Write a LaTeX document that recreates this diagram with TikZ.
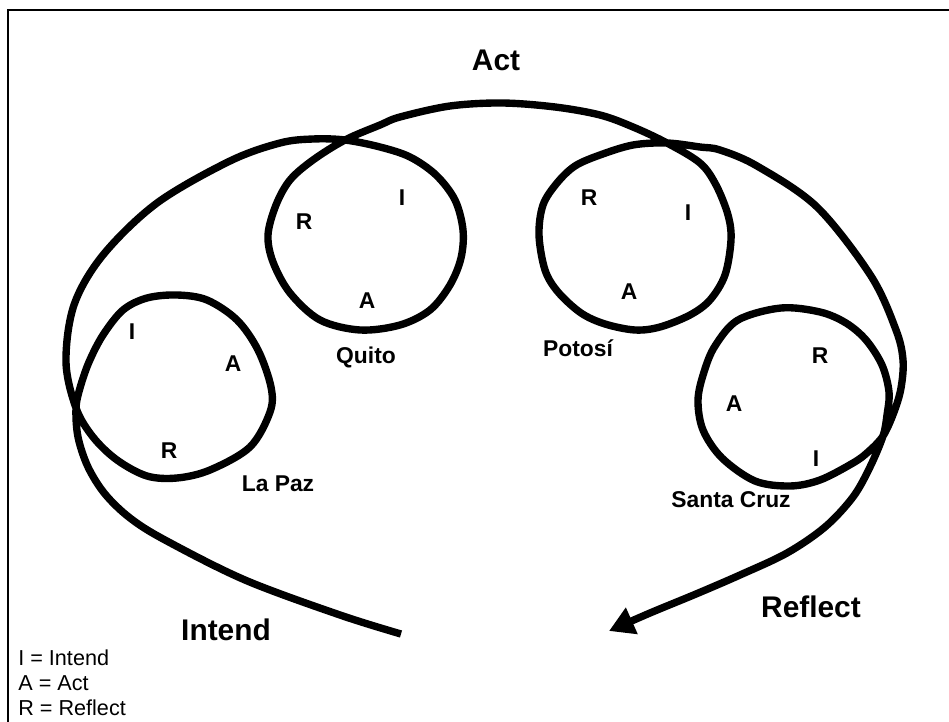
\documentclass[tikz,border=0pt]{standalone}
\usepackage{fontspec}
\setmainfont{Liberation Sans}
\usetikzlibrary{arrows.meta}

\begin{document}
\begin{tikzpicture}[x=0.02cm, y=-0.02cm,
		spiral/.style = {line width=4.2pt, line join=round},
		stage/.style = {font=\fontsize{17}{20}\selectfont\bfseries},
		city/.style = {font=\fontsize{13}{15}\selectfont\bfseries},
		letter/.style = {font=\fontsize{13}{15}\selectfont\bfseries},
		key/.style = {font=\fontsize{12.3}{14}\selectfont, anchor=west, inner sep=0pt}]
	\useasboundingbox (0,0) rectangle (949,722);
	\draw[line width=1pt] (8,740) -- (8,10) -- (960,10);
	
	\coordinate (start) at (401,634);
	\coordinate (tip) at (609,631);
	\draw[spiral, -{Triangle[length=0.5cm, width=0.55cm]}] plot[smooth, tension=0.55] coordinates {
		(start) (340,615) (245,580) (165,540) (130,518) (105,494) (88,467) (78,437)
		% La Paz
		(76,408) (80,388) (89,362) (103,335) (123,310) (147,298) (177,295) (207,300)
		(237,320) (258,350) (271,387) (270,412) (250,447) (210,470) (177,478) (147,476)
		(117,460) (93,437) (76,408) (66,362) (74,305) (103,255) (157,203) (230,161)
		(280,143) (313,139)
		% Quito
		(345,140) (380,147) (410,157) (436,175) (455,200) (463,230) (461,258) (450,285)
		(430,310) (400,325) (360,330) (320,320) (290,293) (273,262) (268,235) (276,205)
		(290,180) (313,160) (345,140) (380,125) (400,117) (450,106) (502,103) (555,107)
		(600,115) (633,127)
		% Potosi
		(667,143) (700,163) (716,185) (728,215) (731,240) (725,275) (710,300) (690,315)
		(660,327) (635,330) (605,324) (581,313) (558,292) (545,270) (539,235) (543,205)
		(557,183) (575,166) (600,155) (633,145) (667,143) (700,147) (720,150) (757,166)
		(817,207) (871,276) (896,330) (903,360) (901,388) (894,412)
		% Santa Cruz
		(883,436) (868,452) (853,463) (820,480) (790,486) (755,481) (722,458) (703,430)
		(698,400) (704,372) (715,346) (738,320) (781,308) (820,312) (846,323) (866,340)
		(882,365) (889,392) (887,415) (883,436) (870,467) (853,497) (825,527) (787,553)
		(740,575) (696,594) (650,613) (tip)
	};
	
	\node[stage] (act) at (496,60) {Act};
	\node[stage] (intend) at (226,630) {Intend};
	\node[stage] (reflect) at (811,607) {Reflect};
	
	\node[city] (lapaz) at (278,484) {La Paz};
	\node[city] (quito) at (366,357) {Quito};
	\node[city] (potosi) at (578,348) {Potosí};
	\node[city] (santacruz) at (731,500) {Santa Cruz};
	
	\node[letter] (lapaz-i) at (132,332) {I};
	\node[letter] (lapaz-a) at (233,364) {A};
	\node[letter] (lapaz-r) at (169,451) {R};
	\node[letter] (quito-r) at (304,222) {R};
	\node[letter] (quito-i) at (402,198) {I};
	\node[letter] (quito-a) at (367,301) {A};
	\node[letter] (potosi-r) at (589,198) {R};
	\node[letter] (potosi-i) at (688,213) {I};
	\node[letter] (potosi-a) at (629,292) {A};
	\node[letter] (santacruz-r) at (820,356) {R};
	\node[letter] (santacruz-a) at (734,404) {A};
	\node[letter] (santacruz-i) at (816,459) {I};
	
	\node[key] (key-i) at (18,658) {I = Intend};
	\node[key] (key-a) at (18,683) {A = Act};
	\node[key] (key-r) at (18,708) {R = Reflect};
\end{tikzpicture}
\end{document}
